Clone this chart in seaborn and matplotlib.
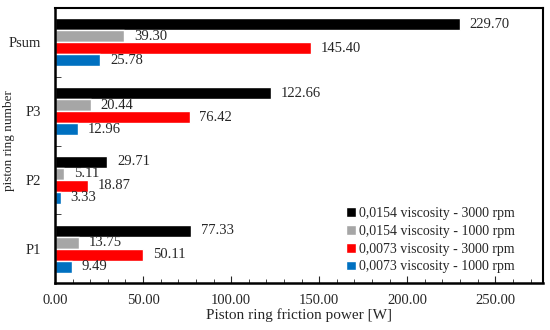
import pandas as pd
import matplotlib
matplotlib.use('Agg')
import matplotlib.pyplot as plt
from matplotlib.ticker import MultipleLocator, FormatStrFormatter, FixedLocator
import seaborn as sns

# data
rings = ['Psum', 'P3', 'P2', 'P1']
series = ['0,0154 viscosity - 3000 rpm', '0,0154 viscosity - 1000 rpm',
          '0,0073 viscosity - 3000 rpm', '0,0073 viscosity - 1000 rpm']
v0154_3000 = [229.70, 122.66, 29.71, 77.33]
v0154_1000 = [39.30, 20.44, 5.11, 13.75]
v0073_3000 = [145.40, 76.42, 18.87, 50.11]
v0073_1000 = [25.78, 12.96, 3.33, 9.49]
colors = ['#000000', '#A6A6A6', '#FF0000', '#0070C0']

rows = []
for name, vals in zip(series, [v0154_3000, v0154_1000, v0073_3000, v0073_1000]):
    for r, v in zip(rings, vals):
        rows.append({'ring': r, 'series': name, 'power': v})
df = pd.DataFrame(rows)

sns.set_style('ticks')
plt.rcParams['font.family'] = ['Liberation Serif', 'DejaVu Serif']

fig = plt.figure(figsize=(5.5, 3.3), dpi=100)
ax = fig.add_axes([0.1, 0.142, 0.887, 0.834])

sns.barplot(data=df, y='ring', x='power', hue='series', order=rings,
            hue_order=series, palette=colors, orient='h', width=0.7,
            saturation=1, ax=ax)

for c in ax.containers:
    ax.bar_label(c, fmt='%.2f', padding=7, fontsize=10.5)

ax.set_xlim(0, 277)
ax.set_ylim(3.5, -0.5)
ax.xaxis.set_major_locator(MultipleLocator(50))
ax.xaxis.set_minor_locator(MultipleLocator(10))
ax.xaxis.set_major_formatter(FormatStrFormatter('%.2f'))
ax.tick_params(axis='x', which='both', direction='in', labelsize=10.5, pad=8)
ax.tick_params(axis='x', which='major', length=5)
ax.tick_params(axis='x', which='minor', length=3)
ax.yaxis.set_minor_locator(FixedLocator([0.5, 1.5, 2.5]))
ax.tick_params(axis='y', which='major', length=0, labelsize=10.5, pad=10)
ax.tick_params(axis='y', which='minor', direction='in', length=4)

# full box around the plot area
for side, lw in [('left', 1.8), ('bottom', 1.8), ('top', 1.5), ('right', 1.5)]:
    ax.spines[side].set_visible(True)
    ax.spines[side].set_color('#000000')
    ax.spines[side].set_linewidth(lw)

ax.set_xlabel('Piston ring friction power [W]', fontsize=11, labelpad=1)
ax.set_ylabel('piston ring number', fontsize=9.5)
ax.yaxis.set_label_coords(-0.082, 0.518)

ax.legend(loc='lower right', bbox_to_anchor=(0.962, 0.0), frameon=False,
          fontsize=10, handlelength=0.7, handleheight=0.7, handletextpad=0.2,
          labelspacing=0.35, borderaxespad=0.3)

fig.savefig('out.png', dpi=100)
